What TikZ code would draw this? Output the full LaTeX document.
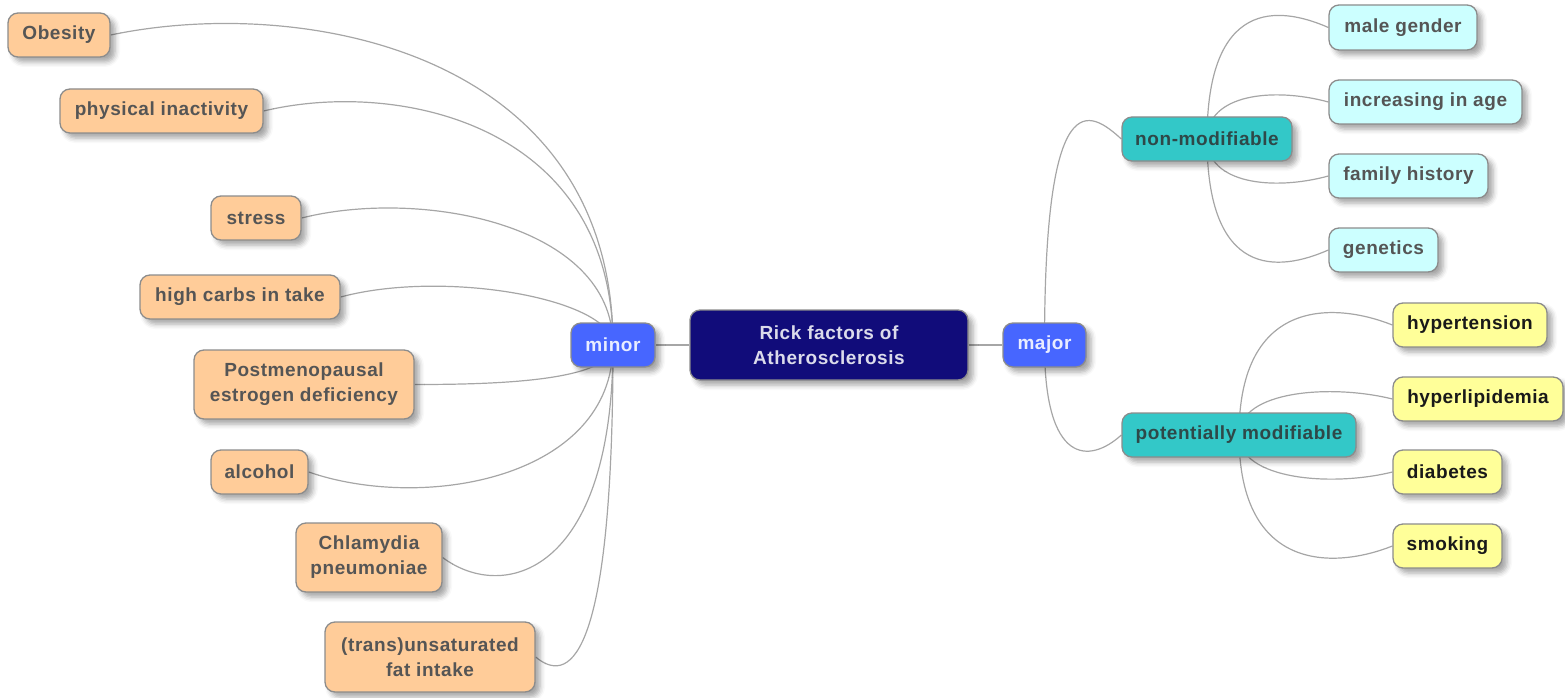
\documentclass[tikz,border=0pt]{standalone}
\usepackage{fontspec}
\setmainfont{Liberation Sans}[LetterSpace=3]
\usetikzlibrary{shadows.blur,backgrounds}
\definecolor{orfill}{HTML}{FFCC99}
\definecolor{bord}{HTML}{8C8C8C}
\definecolor{navy}{HTML}{110C7A}
\definecolor{bluen}{HTML}{4766FF}
\definecolor{tealn}{HTML}{33C8C8}
\definecolor{cyanl}{HTML}{CCFFFF}
\definecolor{yell}{HTML}{FFFF99}
\definecolor{edgec}{HTML}{A6A6A6}
\definecolor{txtg}{HTML}{555555}
\definecolor{txtt}{HTML}{2E4848}
\tikzset{
  base/.style={draw=bord, line width=1.3pt, rounded corners=10pt, inner sep=0pt,
    align=center, minimum height=44pt,
    font=\bfseries\fontsize{19}{25}\selectfont,
    blur shadow={shadow xshift=5pt, shadow yshift=-5pt, shadow blur radius=5pt, shadow opacity=35}},
  orn/.style={base, fill=orfill, text=txtg},
  ctr/.style={base, fill=navy, text=white!85!navy},
  blu/.style={base, fill=bluen, text=white!88!bluen},
  tea/.style={base, fill=tealn, text=txtt},
  cya/.style={base, fill=cyanl, text=txtg},
  yel/.style={base, fill=yell, text=black!90},
  conn/.style={draw=edgec, line width=1.2pt}
}
\begin{document}
\begin{tikzpicture}[x=1pt,y=-1pt]
\useasboundingbox (0,0) rectangle (1565,698);
% left leaves
\node[orn, minimum width=102pt] (ob) at (59,35) {Obesity};
\node[orn, minimum width=203pt] (phys) at (161.5,111) {physical inactivity};
\node[orn, minimum width=90pt] (stress) at (256,218) {stress};
\node[orn, minimum width=200pt] (carbs) at (240,297) {high carbs in take};
\node[orn, minimum width=220pt, minimum height=69pt] (post) at (304,384.5) {Postmenopausal\\estrogen deficiency};
\node[orn, minimum width=97pt] (alc) at (259.5,472) {alcohol};
\node[orn, minimum width=146pt, minimum height=69pt] (chl) at (369,557.5) {Chlamydia\\pneumoniae};
\node[orn, minimum width=210pt, minimum height=70pt] (trans) at (430,657) {(trans)unsaturated\\fat intake};
% middle
\node[blu, minimum width=84pt] (minor) at (613,345) {minor};
\node[ctr, minimum width=278pt, minimum height=70pt] (root) at (829,345) {Rick factors of\\Atherosclerosis};
\node[blu, minimum width=83pt] (major) at (1044.5,345) {major};
% right
\node[tea, minimum width=170pt] (nonmod) at (1207,139) {non-modifiable};
\node[tea, minimum width=234pt] (pot) at (1239,435) {potentially modifiable};
\node[cya, minimum width=148pt, minimum height=45pt] (male) at (1403,27.5) {male gender};
\node[cya, minimum width=193pt] (incr) at (1425.5,102) {increasing in age};
\node[cya, minimum width=159pt] (fam) at (1408.5,176) {family history};
\node[cya, minimum width=109pt] (gen) at (1383.5,250) {genetics};
\node[yel, minimum width=154pt] (hyp) at (1470,325) {hypertension};
\node[yel, minimum width=170pt] (lip) at (1478,399) {hyperlipidemia};
\node[yel, minimum width=109pt] (dia) at (1447.5,472) {diabetes};
\node[yel, minimum width=109pt] (smk) at (1447.5,546) {smoking};
\begin{scope}[on background layer]
\draw[conn] (root) -- (minor);
\draw[conn] (root) -- (major);
\draw[conn] (minor.center) .. controls +(0,-295) and +(190,-40) .. (ob.east);
\draw[conn] (minor.center) .. controls +(0,-222) and +(133,-32) .. (phys.east);
\draw[conn] (minor.center) .. controls +(0,-121) and +(119,-30) .. (stress.east);
\draw[conn] (minor.center) .. controls +(0,-46) and +(104,-28) .. (carbs.east);
\draw[conn] (minor.center) .. controls +(0,37) and +(76,0) .. (post.east);
\draw[conn] (minor.center) .. controls +(0,133) and +(116,40) .. (alc.east);
\draw[conn] (minor.center) .. controls +(0,230) and +(60,45) .. (chl.east);
\draw[conn] (minor.center) .. controls +(0,330) and +(30,25) .. (trans.east);
\draw[conn] (major.center) .. controls +(0,-265) and +(-32,-29) .. (nonmod.west);
\draw[conn] (major.center) .. controls +(0,120) and +(-32,29) .. (pot.west);
\draw[conn] (nonmod.center) .. controls +(0,-140) and +(-50,-22) .. (male.west);
\draw[conn] (nonmod.center) .. controls +(0,-45) and +(-55,-15) .. (incr.west);
\draw[conn] (nonmod.center) .. controls +(0,45) and +(-55,15) .. (fam.west);
\draw[conn] (nonmod.center) .. controls +(0,140) and +(-50,22) .. (gen.west);
\draw[conn] (pot.center) .. controls +(0,-140) and +(-55,-22) .. (hyp.west);
\draw[conn] (pot.center) .. controls +(0,-45) and +(-60,-15) .. (lip.west);
\draw[conn] (pot.center) .. controls +(0,45) and +(-60,15) .. (dia.west);
\draw[conn] (pot.center) .. controls +(0,140) and +(-55,22) .. (smk.west);
\end{scope}
\end{tikzpicture}
\end{document}
